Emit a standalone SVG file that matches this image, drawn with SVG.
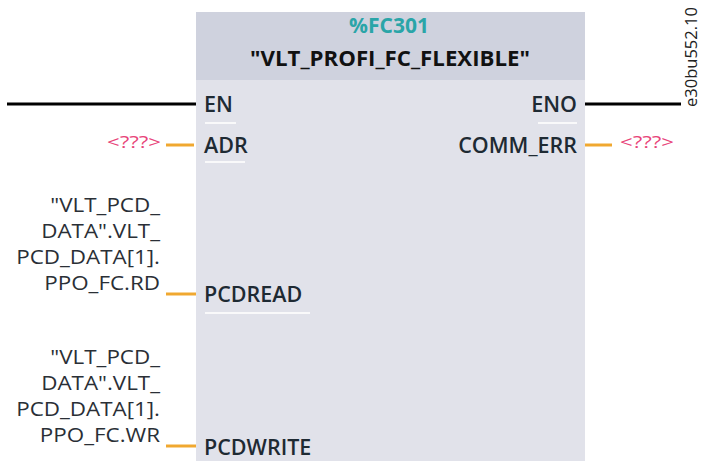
<svg xmlns="http://www.w3.org/2000/svg" width="709" height="461" viewBox="0 0 709 461">
<style>
.pin{font-family:"Open Sans","Liberation Sans",sans-serif;font-size:21.5px;font-weight:600;fill:#1e2a33}
.var{font-family:"Open Sans","Liberation Sans",sans-serif;font-size:20px;fill:#2a2f36}
.q{font-family:"Open Sans","Liberation Sans",sans-serif;font-size:16.5px;fill:#e8457a}
.bool{stroke:#000;stroke-width:3;fill:none}
.wire{stroke:#f0a830;stroke-width:3;fill:none}
.ul{stroke:#ffffff;stroke-width:2;opacity:0.8}
</style>
<g id="block">
<rect x="196" y="12" width="389" height="449" fill="#e1e2ea"/>
<rect x="196" y="12" width="389" height="68" fill="#cfd2de"/>
<text x="389" y="33" text-anchor="middle" font-family="Open Sans, Liberation Sans, sans-serif" font-size="21" font-weight="700" fill="#2aa5a8">%FC301</text>
<text x="390" y="66" text-anchor="middle" font-family="Open Sans, Liberation Sans, sans-serif" font-size="21" font-weight="700" fill="#111" textLength="280" lengthAdjust="spacingAndGlyphs">"VLT_PROFI_FC_FLEXIBLE"</text>
</g>
<g id="pins">
<text class="pin" x="204" y="112">EN</text>
<line class="ul" x1="205" y1="123" x2="236" y2="123"/>
<text class="pin" x="204" y="153">ADR</text>
<line class="ul" x1="205" y1="162" x2="245" y2="162"/>
<text class="pin" x="577" y="112" text-anchor="end">ENO</text>
<line class="ul" x1="538" y1="123" x2="577" y2="123"/>
<text class="pin" x="577" y="153" text-anchor="end">COMM_ERR</text>
<text class="pin" x="204" y="302">PCDREAD</text>
<line class="ul" x1="205" y1="313" x2="310" y2="313"/>
<text class="pin" x="204" y="455">PCDWRITE</text>
</g>
<g id="operands">
<text class="q" x="107" y="148" textLength="54" lengthAdjust="spacingAndGlyphs">&lt;???&gt;</text>
<text class="q" x="620" y="148" textLength="54" lengthAdjust="spacingAndGlyphs">&lt;???&gt;</text>
<g transform="translate(160,0) scale(1.12,1)">
<text class="var" text-anchor="end"><tspan x="0" y="212">"VLT_PCD_</tspan><tspan x="0" y="238">DATA".VLT_</tspan><tspan x="0" y="264">PCD_DATA[1].</tspan><tspan x="0" y="290">PPO_FC.RD</tspan></text>
<text class="var" text-anchor="end"><tspan x="0" y="364">"VLT_PCD_</tspan><tspan x="0" y="390">DATA".VLT_</tspan><tspan x="0" y="416">PCD_DATA[1].</tspan><tspan x="0" y="442">PPO_FC.WR</tspan></text>
</g>
</g>
<g id="connectors">
<line class="bool" x1="7" y1="104" x2="196" y2="104"/>
<line class="bool" x1="585" y1="104" x2="681" y2="104"/>
<line class="wire" x1="166" y1="145" x2="194" y2="145"/>
<line class="wire" x1="585" y1="145" x2="612" y2="145"/>
<line class="wire" x1="166" y1="294" x2="196" y2="294"/>
<line class="wire" x1="166" y1="446" x2="196" y2="446"/>
</g>
<text x="697" y="57" transform="rotate(-90 697 57)" text-anchor="middle" font-family="Open Sans, Liberation Sans, sans-serif" font-size="16.5" fill="#222">e30bu552.10</text>
</svg>
